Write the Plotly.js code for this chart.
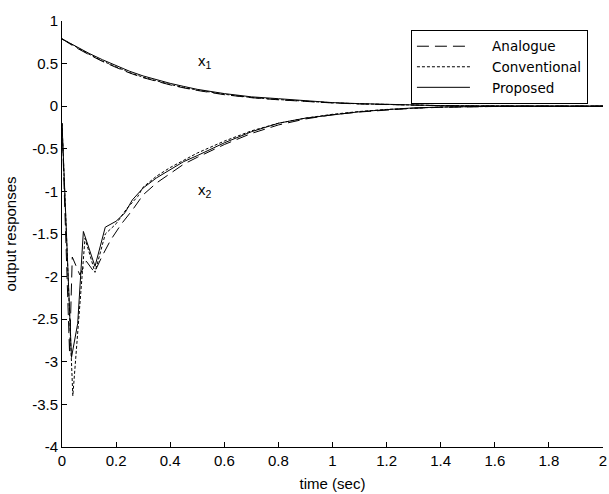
<!DOCTYPE html>
<html>
<head>
<meta charset="utf-8">
<script src="https://cdn.plot.ly/plotly-3.0.1.min.js"></script>
<style>html,body{margin:0;padding:0;background:#fff}</style>
</head>
<body>
<div id="chart" style="width:609px;height:494px"></div>
<script>
// ---- data ----
const seriesNames = ["Analogue", "Conventional", "Proposed"];

// x1 responses (common time grid)
const tX1 = [0,0.05,0.1,0.15,0.2,0.25,0.3,0.35,0.4,0.45,0.5,0.6,0.7,0.8,0.9,1.0,1.1,1.2,1.3,1.4,1.5,1.6,1.8,2.0];
const x1Analogue     = [0.79,0.69,0.605,0.525,0.455,0.39,0.335,0.29,0.25,0.215,0.185,0.135,0.1,0.075,0.055,0.038,0.026,0.017,0.011,0.006,0.003,0.002,0.001,0];
const x1Conventional = [0.79,0.695,0.61,0.53,0.46,0.395,0.34,0.295,0.255,0.22,0.19,0.14,0.102,0.078,0.057,0.04,0.028,0.019,0.012,0.007,0.004,0.002,0.001,0];
const x1Proposed     = [0.79,0.70,0.62,0.545,0.475,0.41,0.355,0.31,0.268,0.232,0.198,0.148,0.11,0.088,0.064,0.042,0.03,0.02,0.012,0.007,0.004,0.002,0.001,0];

// x2 responses
const tX2Analogue = [0,0.028,0.038,0.066,0.09,0.12,0.15,0.18,0.22,0.26,0.3,0.35,0.4,0.45,0.5,0.6,0.7,0.8,0.9,1.0,1.1,1.2,1.3,1.4,1.5,1.6,1.8,2.0];
const x2Analogue  = [-0.2,-2.9,-1.77,-1.98,-1.82,-1.95,-1.75,-1.57,-1.38,-1.22,-1.04,-0.9,-0.79,-0.68,-0.6,-0.45,-0.32,-0.22,-0.15,-0.1,-0.068,-0.042,-0.024,-0.013,-0.007,-0.003,-0.001,0];

const tX2Conventional = [0,0.04,0.085,0.122,0.16,0.2,0.24,0.28,0.3,0.35,0.4,0.45,0.5,0.6,0.7,0.8,0.9,1.0,1.1,1.2,1.3,1.4,1.5,1.6,1.8,2.0];
const x2Conventional  = [-0.2,-3.4,-1.55,-1.95,-1.5,-1.38,-1.2,-1.06,-0.95,-0.82,-0.72,-0.63,-0.55,-0.41,-0.29,-0.2,-0.14,-0.095,-0.062,-0.038,-0.02,-0.01,-0.005,-0.002,-0.001,0];

const tX2Proposed = [0,0.035,0.058,0.079,0.122,0.16,0.2,0.233,0.26,0.3,0.35,0.4,0.45,0.5,0.6,0.7,0.8,0.9,1.0,1.1,1.2,1.3,1.4,1.5,1.6,1.8,2.0];
const x2Proposed  = [-0.2,-2.95,-2.55,-1.47,-1.88,-1.42,-1.35,-1.25,-1.1,-0.96,-0.84,-0.74,-0.65,-0.58,-0.43,-0.3,-0.2,-0.14,-0.1,-0.065,-0.04,-0.02,-0.01,-0.005,-0.002,-0.001,0];

// axis ticks
const xTickVals = [0,0.2,0.4,0.6,0.8,1,1.2,1.4,1.6,1.8,2];
const xTickText = ["0","0.2","0.4","0.6","0.8","1","1.2","1.4","1.6","1.8","2"];
const yTickVals = [1,0.5,0,-0.5,-1,-1.5,-2,-2.5,-3,-3.5,-4];
const yTickText = ["1","0.5","0","-0.5","-1","-1.5","-2","-2.5","-3","-3.5","-4"];

// ---- styles ----
const FONT = "Liberation Sans, Arial, sans-serif";
const LEGFONT = "DejaVu Sans, sans-serif";
const dashes = {Analogue: "12px,6px", Conventional: "3px,2px", Proposed: "solid"};
const legendPad = "\u00a0\u00a0\u00a0\u00a0";

const x1Data = {Analogue: x1Analogue, Conventional: x1Conventional, Proposed: x1Proposed};
const x2T = {Analogue: tX2Analogue, Conventional: tX2Conventional, Proposed: tX2Proposed};
const x2Data = {Analogue: x2Analogue, Conventional: x2Conventional, Proposed: x2Proposed};

const traces = [];
seriesNames.forEach(name => {
  traces.push({
    x: tX1, y: x1Data[name], type: "scatter", mode: "lines", name: legendPad + name,
    legendgroup: name, showlegend: true,
    line: {color: "#000", width: 1, dash: dashes[name]}
  });
  traces.push({
    x: x2T[name], y: x2Data[name], type: "scatter", mode: "lines", name: legendPad + name,
    legendgroup: name, showlegend: false,
    line: {color: "#000", width: 1, dash: dashes[name]}
  });
});

const layout = {
  width: 609, height: 494,
  margin: {l: 62, r: 6, t: 21, b: 47, pad: 0},
  paper_bgcolor: "#fff", plot_bgcolor: "#fff",
  font: {family: FONT, size: 14, color: "#000"},
  showlegend: true,
  xaxis: {
    range: [0, 2], tickvals: xTickVals, ticktext: xTickText,
    ticks: "inside", ticklen: 5, tickcolor: "#000", tickwidth: 1,
    showline: true, linecolor: "#000", linewidth: 1, mirror: false,
    showgrid: false, zeroline: false,
    tickfont: {family: FONT, size: 15, color: "#000"},
    title: {text: "time (sec)", font: {family: FONT, size: 15, color: "#000"}, standoff: 10}
  },
  yaxis: {
    range: [-4, 1], tickvals: yTickVals, ticktext: yTickText,
    ticks: "inside", ticklen: 5, tickcolor: "#000", tickwidth: 1,
    showline: true, linecolor: "#000", linewidth: 1, mirror: false,
    showgrid: false, zeroline: false,
    tickfont: {family: FONT, size: 15, color: "#000"},
    title: {text: "output responses", font: {family: FONT, size: 15, color: "#000"}, standoff: 11}
  },
  legend: {
    x: 0.645, y: 0.979, xanchor: "left", yanchor: "top",
    bgcolor: "#fff", bordercolor: "#000", borderwidth: 1,
    font: {family: LEGFONT, size: 13.5, color: "#000"},
    itemwidth: 53, tracegroupgap: 0
  },
  annotations: [
    {x: 0.53, y: 0.52, xref: "x", yref: "y", text: "x<sub>1</sub>", showarrow: false,
     font: {family: FONT, size: 15, color: "#000"}},
    {x: 0.53, y: -0.99, xref: "x", yref: "y", text: "x<sub>2</sub>", showarrow: false,
     font: {family: FONT, size: 15, color: "#000"}}
  ]
};

Plotly.newPlot("chart", traces, layout, {displayModeBar: false, staticPlot: true});
</script>
</body>
</html>
